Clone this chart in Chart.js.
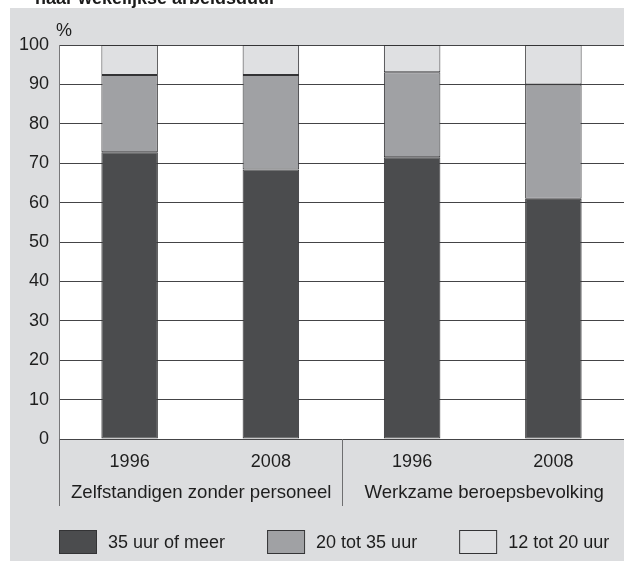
<!DOCTYPE html>
<html>
<head>
<meta charset="utf-8">
<script src="https://cdn.jsdelivr.net/npm/chart.js@4"></script>
<style>
  html, body { margin: 0; padding: 0; background: #fff; }
  #wrap { width: 624px; height: 561px; }
</style>
</head>
<body>
<div id="wrap"><canvas id="chart" width="624" height="561"></canvas></div>
<script>
// data
const categories = ['1996', '2008', '1996', '2008'];
const groups = ['Zelfstandigen zonder personeel', 'Werkzame beroepsbevolking'];
const seriesNames = ['35 uur of meer', '20 tot 35 uur', '12 tot 20 uur'];
const uur35plus = [72.8, 68.4, 71.5, 61.0];
const uur20to35 = [19.6, 24.0, 21.6, 29.0];
const uur12to20 = [7.6, 7.6, 6.9, 10.0];
const yMin = 0, yMax = 100, yStep = 10;
const yUnit = '%';
const titleText = 'naar wekelijkse arbeidsduur';

const FONT = '"Liberation Sans", Arial, sans-serif';
const colors = ['#4b4c4e', '#a0a1a4', '#dfe0e2'];
const edge = '#333335';

// grey panel, white plot area and the cut-off title above
const backdrop = {
  id: 'backdrop',
  beforeDraw(chart) {
    const { ctx, chartArea: a } = chart;
    ctx.save();
    ctx.fillStyle = '#ffffff';
    ctx.fillRect(0, 0, chart.width, chart.height);
    ctx.fillStyle = '#dcdddf';
    ctx.fillRect(10, 8, chart.width - 10, chart.height - 8);
    ctx.fillStyle = '#ffffff';
    ctx.fillRect(a.left, a.top, chart.width - a.left, a.bottom - a.top);
    ctx.fillStyle = '#1a1a1a';
    ctx.font = 'bold 18px ' + FONT;
    ctx.textBaseline = 'alphabetic';
    ctx.fillText(titleText, 35, 4);
    ctx.restore();
  }
};

// group separators + group names under the years, unit label, legend
const extras = {
  id: 'extras',
  afterDraw(chart) {
    const { ctx, chartArea: a } = chart;
    const xs = chart.scales.x;
    ctx.save();
    // separators
    const perGroup = categories.length / groups.length;
    const bounds = [];
    for (let g = 0; g <= groups.length; g++) {
      let x;
      if (g === 0) x = a.left;
      else if (g === groups.length) x = a.right + 1;
      else x = (xs.getPixelForTick(g * perGroup - 1) + xs.getPixelForTick(g * perGroup)) / 2;
      bounds.push(x);
    }
    ctx.strokeStyle = '#6e6e70';
    ctx.lineWidth = 1;
    bounds.forEach(x => {
      const px = Math.round(x) + 0.5;
      ctx.beginPath();
      ctx.moveTo(px, a.bottom);
      ctx.lineTo(px, 506);
      ctx.stroke();
    });
    ctx.fillStyle = '#1e1e1e';
    ctx.font = '18.6px ' + FONT;
    ctx.textAlign = 'center';
    ctx.textBaseline = 'middle';
    groups.forEach((name, i) => {
      ctx.fillText(name, (bounds[i] + bounds[i + 1]) / 2 + 1, 493);
    });
    // unit
    ctx.font = '18px ' + FONT;
    ctx.textAlign = 'left';
    ctx.fillText(yUnit, 56, 31);
    // legend
    let x = 59;
    chart.data.datasets.forEach(ds => {
      ctx.fillStyle = ds.backgroundColor;
      ctx.fillRect(x, 530, 37, 23);
      ctx.strokeStyle = edge;
      ctx.strokeRect(x + 0.5, 530.5, 37, 23);
      ctx.fillStyle = '#1e1e1e';
      ctx.fillText(ds.label, x + 49, 543);
      x += 49 + ctx.measureText(ds.label).width + 42;
    });
    ctx.restore();
  }
};

const seriesValues = [uur35plus, uur20to35, uur12to20];

new Chart(document.getElementById('chart'), {
  type: 'bar',
  data: {
    labels: categories,
    datasets: seriesNames.map((name, i) => ({
      label: name,
      data: seriesValues[i],
      backgroundColor: colors[i],
      borderColor: edge,
      borderWidth: 1,
      borderSkipped: false,
      categoryPercentage: 1,
      barPercentage: 0.4
    }))
  },
  options: {
    responsive: false,
    animation: false,
    layout: { padding: { left: 10, top: 45, right: 0, bottom: 0 } },
    plugins: {
      legend: { display: false },
      tooltip: { enabled: false }
    },
    scales: {
      x: {
        stacked: true,
        grid: { display: false, drawTicks: false },
        border: { display: true, color: '#444446' },
        ticks: { color: '#1e1e1e', font: { family: FONT, size: 18 }, padding: 12, maxRotation: 0 },
        afterFit(scale) { scale.height = 122; }
      },
      y: {
        stacked: true,
        min: yMin,
        max: yMax,
        grid: { color: '#444446', lineWidth: 1, drawTicks: false },
        border: { display: true, color: '#78787a' },
        ticks: { stepSize: yStep, color: '#1e1e1e', font: { family: FONT, size: 18 }, padding: 10 },
        afterFit(scale) { scale.width = 49; }
      }
    }
  },
  plugins: [backdrop, extras]
});
</script>
</body>
</html>
